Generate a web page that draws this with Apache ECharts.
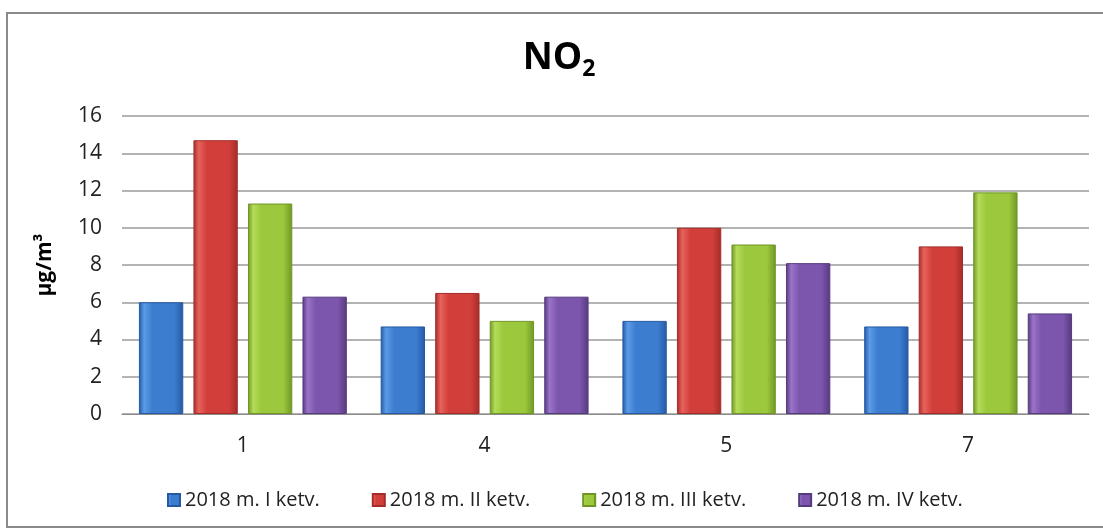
<!DOCTYPE html>
<html>
<head>
<meta charset="utf-8">
<script src="https://cdn.jsdelivr.net/npm/echarts@6/dist/echarts.min.js"></script>
<style>
  html, body { margin: 0; padding: 0; background: #fff; }
  #chart { width: 1103px; height: 529px; }
</style>
</head>
<body>
<div id="chart"></div>
<script>
// Monitoring stations and quarterly NO2 means (µg/m³)
const categories = ['1', '4', '5', '7'];
const seriesNames = ['2018 m. I ketv.', '2018 m. II ketv.', '2018 m. III ketv.', '2018 m. IV ketv.'];
const q1 = [6.0, 4.7, 5.0, 4.7];
const q2 = [14.7, 6.5, 10.0, 9.0];
const q3 = [11.3, 5.0, 9.1, 11.9];
const q4 = [6.3, 6.3, 8.1, 5.4];
const yTicks = [0, 2, 4, 6, 8, 10, 12, 14, 16];

const FONT = '"Open Sans", "DejaVu Sans", sans-serif';

// [edge, highlight, body] shades per series for the bevelled bar look
const palettes = [
  ['#2559a3', '#5b9be6', '#3c7dd0'],
  ['#a32c29', '#e8625c', '#d23f3a'],
  ['#6f9626', '#b5dc5a', '#9bc83c'],
  ['#563a7e', '#9a74c8', '#7c55ad']
];

function barFill(p) {
  return new echarts.graphic.LinearGradient(0, 0, 1, 0, [
    { offset: 0, color: p[0] },
    { offset: 0.12, color: p[1] },
    { offset: 0.3, color: p[2] },
    { offset: 0.8, color: p[2] },
    { offset: 1, color: p[0] }
  ]);
}

const values = [q1, q2, q3, q4];
const series = values.map((data, i) => ({
  name: seriesNames[i],
  type: 'bar',
  data: data,
  barGap: '23%',
  barCategoryGap: '14%',
  itemStyle: { color: barFill(palettes[i]), borderColor: palettes[i][0], borderWidth: 1 }
}));

const chart = echarts.init(document.getElementById('chart'), null, { renderer: 'canvas' });
chart.setOption({
  backgroundColor: '#ffffff',
  animation: false,
  color: palettes.map(p => p[2]),
  title: {
    text: '{a|NO}{b|2}',
    left: 559,
    textAlign: 'center',
    top: 35,
    padding: 0,
    textStyle: {
      rich: {
        a: { fontFamily: FONT, fontWeight: 'bold', fontSize: 37, lineHeight: 46, color: '#000' },
        b: { fontFamily: FONT, fontWeight: 'bold', fontSize: 23, lineHeight: 16, verticalAlign: 'bottom', color: '#000' }
      }
    }
  },
  graphic: [{
    type: 'rect',
    shape: { x: 7, y: 13, width: 1110, height: 514 },
    style: { fill: null, stroke: '#8a8a8a', lineWidth: 2 },
    silent: true,
    z: -1
  }],
  legend: {
    data: seriesNames,
    left: 162,
    top: 485,
    icon: 'rect',
    itemWidth: 12,
    itemHeight: 12,
    itemGap: 52,
    textStyle: { fontFamily: FONT, fontSize: 20, color: '#222' }
  },
  grid: { left: 122, right: 14, top: 116, bottom: 115 },
  xAxis: {
    type: 'category',
    data: categories,
    axisLine: { show: true, lineStyle: { color: '#8c8c8c', width: 1 } },
    axisTick: { show: false },
    axisLabel: { fontFamily: FONT, fontSize: 21, color: '#222', margin: 22 }
  },
  yAxis: {
    type: 'value',
    min: yTicks[0],
    max: yTicks[yTicks.length - 1],
    interval: 2,
    name: 'µg/m³',
    nameLocation: 'middle',
    nameGap: 66,
    nameTextStyle: { fontFamily: FONT, fontWeight: 'bold', fontSize: 21, color: '#000' },
    axisLine: { show: false },
    axisTick: { show: false },
    axisLabel: { fontFamily: FONT, fontSize: 21, color: '#222', margin: 20 },
    splitLine: { lineStyle: { color: '#9a9a9a', width: 1.5 } }
  },
  series: series
});
</script>
</body>
</html>
